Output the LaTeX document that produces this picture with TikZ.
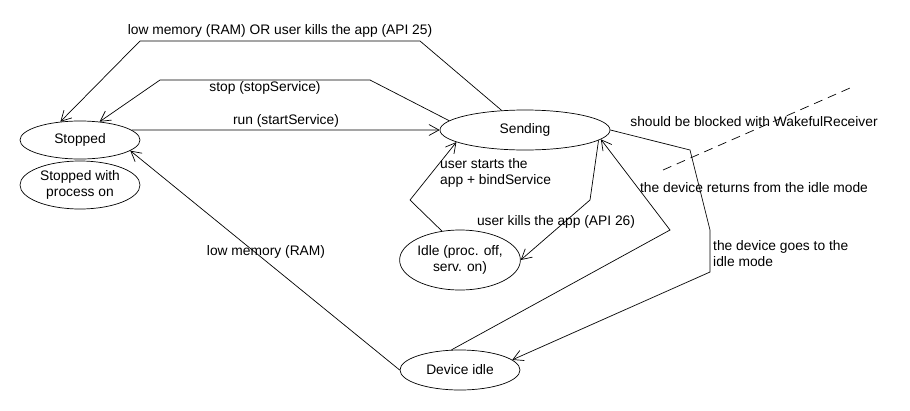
\documentclass[tikz,border=0pt]{standalone}
\usepackage{fontspec}
\setmainfont{Liberation Sans}
\usepackage{tikz}
\usetikzlibrary{shapes}
\usetikzlibrary{arrows.meta}

\begin{document}
\begin{tikzpicture}[x=1pt,y=-1pt,font=\fontsize{13.8}{16}\selectfont]
\tikzstyle{state} = [ellipse, draw, line width=0.7pt, inner sep=0pt,
align=center, minimum width=120pt]
\tikzstyle{trans} = [draw, line width=0.7pt, ->, >={Straight Barb[length=10pt,width=11pt]}]
\tikzstyle{lbl} = [inner sep=0pt]
\useasboundingbox (0,0) rectangle (910,410);
% states
\node [state, minimum height=38pt] (stopped) at (80,140) {Stopped};
\node [state, minimum height=48pt] (stoppedproc) at (80,185) {Stopped with\\process on};
\node [state, minimum width=170pt, minimum height=40pt] (sending) at (525,130) {Sending};
\node [state, minimum height=60pt] (idle) at (460,260) {Idle (proc. off,\\serv. on)};
\node [state, minimum height=40pt] (devidle) at (460,370) {Device idle};
% bends
\coordinate (k1) at (420,41);
\coordinate (k2) at (140,41);
\coordinate (k3) at (370,80);
\coordinate (k4) at (160,80);
\coordinate (k5) at (410,200);
\coordinate (k6) at (590,200);
\coordinate (k7) at (670,230);
\coordinate (k8) at (690,150);
\coordinate (k9) at (710,230);
\coordinate (k10) at (710,272);
\coordinate (d1) at (663,170);
\coordinate (d2) at (850,88);
% labels
\node [lbl] (l1) at (280,31) {low memory (RAM) OR user kills the app (API 25)};
\node [lbl] (l2) at (265,88) {stop (stopService)};
\node [lbl] (l3) at (286,121) {run (startService)};
\node [lbl, anchor=west, align=left] (l4) at (440,173) {user starts the\\app + bindService};
\node [lbl] (l5) at (556,222) {user kills the app (API 26)};
\node [lbl] (l6) at (754,122) {should be blocked with WakefulReceiver};
\node [lbl] (l7) at (754,188) {the device returns from the idle mode};
\node [lbl, anchor=west, align=left] (l8) at (713,254) {the device goes to the\\idle mode};
\node [lbl] (l9) at (266,252) {low memory (RAM)};
% transitions
\draw [trans] (sending.140) -- (k1) -- (k2) -- (stopped.137);
\draw [trans] (sending.173) -- (k3) -- (k4) -- (stopped.43);
\draw [trans] (stopped.11) -- (sending.west);
\draw [trans] (idle.122) -- (k5) -- (sending.190);
\draw [trans] (sending.-8) -- (k6) -- (idle.east);
\draw [trans] (devidle.113) -- (k7) -- (sending.-7);
\draw [trans] (sending.east) -- (k8) -- (k9) -- (k10) -- (devidle.11);
\draw [trans] (devidle.west) -- (stopped.-12);
\draw [line width=0.7pt, dash pattern=on 9pt off 6pt] (d1) -- (d2);
\end{tikzpicture}
\end{document}
